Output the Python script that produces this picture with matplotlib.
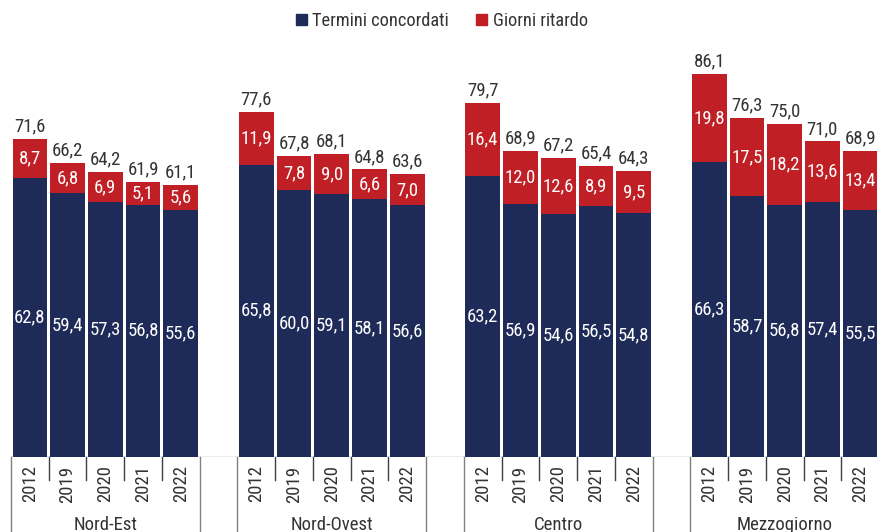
import numpy as np
import matplotlib
matplotlib.use("Agg")
import matplotlib.pyplot as plt
from matplotlib.patches import Patch

plt.rcParams['font.family'] = ['Roboto Condensed', 'Roboto', 'DejaVu Sans']

groups = ["Nord-Est", "Nord-Ovest", "Centro", "Mezzogiorno"]
years = ["2012", "2019", "2020", "2021", "2022"]

# Termini concordati (giorni)
termini = [
    [62.8, 59.4, 57.3, 56.8, 55.6],
    [65.8, 60.0, 59.1, 58.1, 56.6],
    [63.2, 56.9, 54.6, 56.5, 54.8],
    [66.3, 58.7, 56.8, 57.4, 55.5],
]
# Giorni ritardo
ritardo = [
    [8.7, 6.8, 6.9, 5.1, 5.6],
    [11.9, 7.8, 9.0, 6.6, 7.0],
    [16.4, 12.0, 12.6, 8.9, 9.5],
    [19.8, 17.5, 18.2, 13.6, 13.4],
]
# totali riportati sopra le barre
totali = [
    [71.6, 66.2, 64.2, 61.9, 61.1],
    [77.6, 67.8, 68.1, 64.8, 63.6],
    [79.7, 68.9, 67.2, 65.4, 64.3],
    [86.1, 76.3, 75.0, 71.0, 68.9],
]

NAVY = "#1e2b58"
RED = "#c01f26"
TXT = "#333333"
FS = 13.5

W, H = 877, 532
fig = plt.figure(figsize=(W / 100, H / 100), dpi=100)
ax = fig.add_axes([11 / W, 75 / H, 868 / W, 400 / H])
ax.set_xlim(-0.5, 22.5)
ax.set_ylim(0, 90)
ax.axis("off")

def fmt(v):
    return f"{v:.1f}".replace(".", ",")

ax.axhline(0, color="#999999", lw=1, zorder=0)

trans = ax.get_xaxis_transform()
for g, name in enumerate(groups):
    x = np.arange(5) + g * 6
    nav = np.array(termini[g])
    red = np.array(ritardo[g])
    ax.bar(x, nav, width=0.92, color=NAVY, zorder=2)
    ax.bar(x, red, width=0.92, bottom=nav, color=RED, zorder=2)
    for i in range(5):
        ax.text(x[i], nav[i] / 2, fmt(nav[i]), color="white", ha="center",
                va="center", fontsize=FS)
        ax.text(x[i], nav[i] + red[i] / 2, fmt(red[i]), color="white",
                ha="center", va="center", fontsize=FS)
        ax.text(x[i], nav[i] + red[i] + 0.8, fmt(totali[g][i]), color=TXT,
                ha="center", va="bottom", fontsize=FS)
        ax.text(x[i], -27 / 400, years[i], rotation=90, color=TXT,
                ha="center", va="center", fontsize=FS, transform=trans)
    # separatori tra anni
    for i in range(4):
        ax.plot([x[i] + 0.5] * 2, [0, -23 / 400], color="#404040", lw=1,
                transform=trans, clip_on=False)
    # bordi del gruppo
    for xe in (g * 6 - 0.5, g * 6 + 4.5):
        ax.plot([xe] * 2, [0, -80 / 400], color="#808080", lw=1,
                transform=trans, clip_on=False)
    ax.text(g * 6 + 2, -59 / 400, name, color=TXT, ha="center", va="top",
            fontsize=FS, transform=trans)

handles = [Patch(color=NAVY, label="Termini concordati"),
           Patch(color=RED, label="Giorni ritardo")]
leg = fig.legend(handles=handles, loc="center", bbox_to_anchor=(442 / W, 1 - 21 / H),
                 ncol=2, frameon=False, fontsize=13.2, handlelength=0.6,
                 handleheight=0.6, handletextpad=0.3, columnspacing=1.5)
for t in leg.get_texts():
    t.set_color(TXT)

fig.savefig("out.png", dpi=100)
